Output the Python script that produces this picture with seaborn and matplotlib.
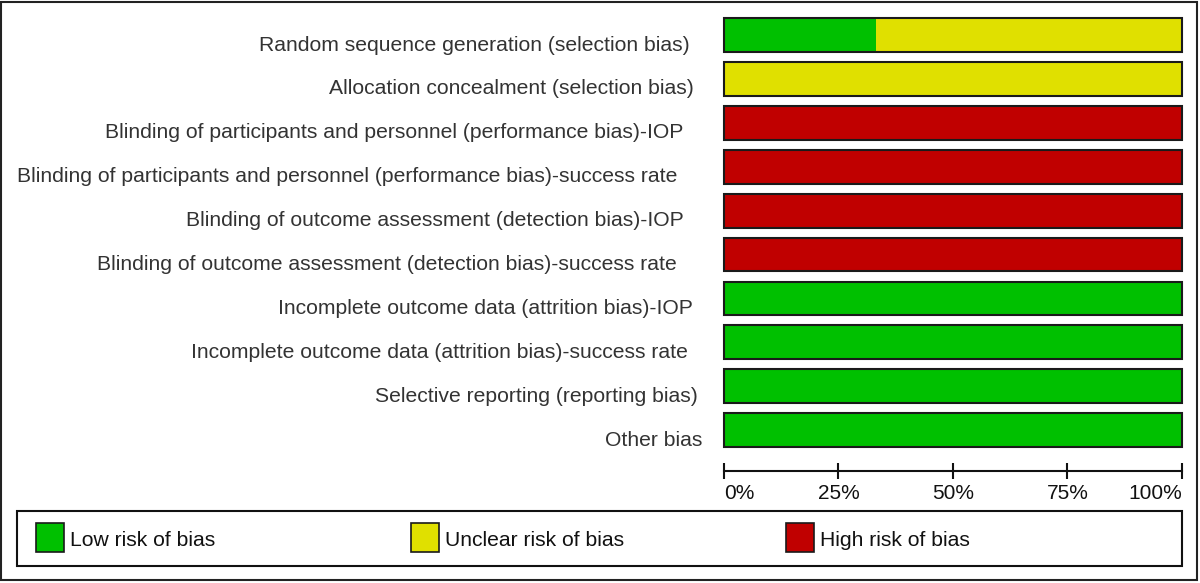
import numpy as np
import pandas as pd
import matplotlib
matplotlib.use('Agg')
import matplotlib.pyplot as plt
from matplotlib.patches import Rectangle
from matplotlib.transforms import ScaledTranslation, blended_transform_factory
import seaborn as sns

# Risk of bias summary (percent of studies per judgement)
domains = [
    'Random sequence generation (selection bias)',
    'Allocation concealment (selection bias)',
    'Blinding of participants and personnel (performance bias)-IOP',
    'Blinding of participants and personnel (performance bias)-success rate',
    'Blinding of outcome assessment (detection bias)-IOP',
    'Blinding of outcome assessment (detection bias)-success rate',
    'Incomplete outcome data (attrition bias)-IOP',
    'Incomplete outcome data (attrition bias)-success rate',
    'Selective reporting (reporting bias)',
    'Other bias',
]
low_risk = [33.3, 0, 0, 0, 0, 0, 100, 100, 100, 100]
unclear_risk = [66.7, 100, 0, 0, 0, 0, 0, 0, 0, 0]
high_risk = [0, 0, 100, 100, 100, 100, 0, 0, 0, 0]

legend_labels = ['Low risk of bias', 'Unclear risk of bias', 'High risk of bias']
colors = ['#00c000', '#e0e000', '#c00000']
ticks = [0, 25, 50, 75, 100]

# gap (px) between each label's right end and the bars, as in the original
label_gap = [34, 30, 41, 47, 40, 47, 31, 36, 26, 22]

df = pd.DataFrame({'domain': domains, 'low': low_risk,
                   'unclear': unclear_risk, 'high': high_risk})
df['low_unclear'] = df['low'] + df['unclear']
df['total'] = df['low_unclear'] + df['high']

sns.set_theme(style='white')
plt.rcParams['font.family'] = ['Liberation Sans', 'DejaVu Sans']

fig = plt.figure(figsize=(12, 5.83), dpi=100)
ax = fig.add_axes([0.6033, 0.1921, 0.3817, 0.787])

w = 0.77
# stacked by overdrawing cumulative sums, widest first
sns.barplot(data=df, x='total', y='domain', orient='h', color=colors[2],
            width=w, saturation=1, edgecolor='none', ax=ax)
sns.barplot(data=df, x='low_unclear', y='domain', orient='h', color=colors[1],
            width=w, saturation=1, edgecolor='none', ax=ax)
sns.barplot(data=df, x='low', y='domain', orient='h', color=colors[0],
            width=w, saturation=1, edgecolor='none', ax=ax)
# outline around the whole bar
sns.barplot(data=df, x='total', y='domain', orient='h', fill=False,
            width=w, edgecolor='#1a1a1a', linewidth=1.5, ax=ax)
for p in ax.patches:
    p.set_clip_on(False)

ax.set_xlim(0, 100)
ax.set_ylim(9.93, -0.52)
ax.set_xlabel('')
ax.set_ylabel('')

# domain labels: drawn as text so each can sit a bit below its bar
ax.set_yticks([])
trans = blended_transform_factory(ax.transAxes, ax.transData)
for i, (lab, gap) in enumerate(zip(domains, label_gap)):
    off = ScaledTranslation(-gap / 100, -10 / 100, fig.dpi_scale_trans)
    ax.text(0, i, lab, transform=trans + off, ha='right', va='center',
            fontsize=15.2, color='#333333')

ax.set_xticks(ticks)
ax.set_xticklabels([f'{t}%' for t in ticks], fontsize=15, color='#111111')
xl = ax.get_xticklabels()
xl[0].set_ha('left')
xl[-1].set_ha('right')
ax.tick_params(axis='x', direction='inout', length=11, width=1.5,
               color='#111111', bottom=True, pad=4)
for s in ['left', 'top', 'right']:
    ax.spines[s].set_visible(False)
ax.spines['bottom'].set_linewidth(1.5)
ax.spines['bottom'].set_color('#111111')

# legend box
fig.patches.append(Rectangle((17 / 1200, 0.0292), 1165 / 1200, 0.0943,
                             transform=fig.transFigure, fill=False,
                             edgecolor='#111111', linewidth=1.5))
leg_x = [36 / 1200, 411 / 1200, 786 / 1200]
for x, lab, c in zip(leg_x, legend_labels, colors):
    fig.patches.append(Rectangle((x, 0.0532), 28 / 1200, 0.0497,
                                 transform=fig.transFigure, facecolor=c,
                                 edgecolor='#1a1a1a', linewidth=1.2))
    fig.text(x + 34 / 1200, 0.0722, lab, fontsize=15.2, va='center',
             ha='left', color='#111111')

# outer frame
fig.patches.append(Rectangle((1 / 1200, 3 / 583), 1196 / 1200, 578 / 583,
                             transform=fig.transFigure, fill=False,
                             edgecolor='#222222', linewidth=1.5))

fig.savefig('out.png', dpi=100)
